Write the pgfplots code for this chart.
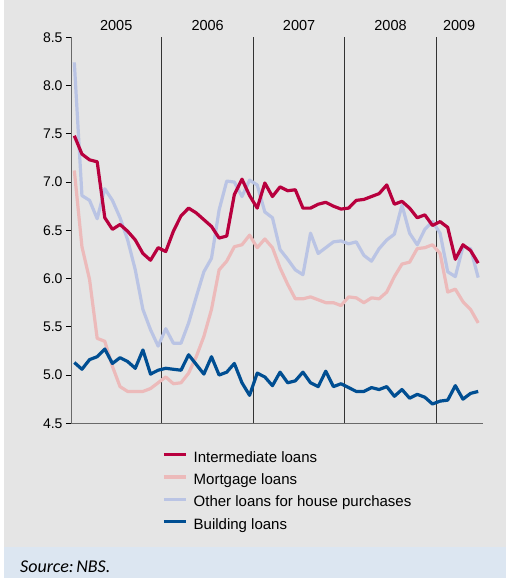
\documentclass[border=0pt]{standalone}
\usepackage{pgfplots}
\pgfplotsset{compat=1.18}
\usepackage{pgfplotstable}
\usepackage{fontspec}
\setmainfont{Liberation Sans}
\newfontfamily\srcfont{Carlito}

\definecolor{cInter}{RGB}{184,0,62}
\definecolor{cMort}{RGB}{236,186,186}
\definecolor{cOther}{RGB}{186,196,228}
\definecolor{cBuild}{RGB}{0,78,146}
\definecolor{bggray}{RGB}{229,229,229}
\definecolor{srcblue}{RGB}{220,230,241}
\definecolor{axisgray}{RGB}{105,105,105}

\pgfplotstableread{
i inter mort other build
0 7.48 7.12 8.24 5.13
1 7.29 6.33 6.86 5.06
2 7.23 5.99 6.81 5.16
3 7.21 5.38 6.62 5.19
4 6.63 5.35 6.93 5.27
5 6.51 5.09 6.81 5.12
6 6.56 4.88 6.63 5.18
7 6.49 4.83 6.40 5.14
8 6.40 4.83 6.09 5.07
9 6.26 4.83 5.68 5.26
10 6.19 4.86 5.47 5.01
11 6.32 4.92 5.30 5.05
12 6.28 4.98 5.48 5.07
13 6.49 4.91 5.33 5.06
14 6.65 4.92 5.33 5.05
15 6.73 5.02 5.54 5.21
16 6.68 5.19 5.81 5.11
17 6.61 5.40 6.07 5.01
18 6.54 5.68 6.21 5.19
19 6.42 6.09 6.71 5.00
20 6.44 6.18 7.01 5.03
21 6.87 6.33 7.00 5.12
22 7.03 6.35 6.85 4.92
23 6.86 6.45 7.02 4.79
24 6.73 6.32 6.97 5.02
25 6.99 6.41 6.69 4.98
26 6.85 6.32 6.63 4.89
27 6.95 6.11 6.30 5.03
28 6.91 5.94 6.20 4.92
29 6.92 5.79 6.09 4.94
30 6.73 5.79 6.04 5.03
31 6.73 5.81 6.47 4.92
32 6.77 5.78 6.26 4.88
33 6.79 5.75 6.32 5.04
34 6.75 5.75 6.38 4.88
35 6.72 5.72 6.39 4.91
36 6.73 5.81 6.36 4.87
37 6.81 5.80 6.38 4.83
38 6.82 5.75 6.24 4.83
39 6.85 5.80 6.18 4.87
40 6.88 5.79 6.31 4.85
41 6.97 5.86 6.40 4.88
42 6.77 6.02 6.46 4.78
43 6.80 6.15 6.76 4.85
44 6.73 6.17 6.47 4.76
45 6.63 6.31 6.35 4.80
46 6.66 6.32 6.51 4.77
47 6.55 6.35 6.59 4.70
48 6.59 6.26 6.47 4.73
49 6.53 5.86 6.07 4.74
50 6.20 5.89 6.02 4.89
51 6.35 5.76 6.33 4.75
52 6.29 5.68 6.31 4.81
53 6.16 5.54 6.01 4.83
}\loandata

\begin{document}
\begin{tikzpicture}
% page background
\fill[white] (-71.5pt,-154.7pt) rectangle (434.5pt,423.3pt);
\fill[bggray] (-67.5pt,-123.4pt) rectangle (434.5pt,423.3pt);
\fill[srcblue] (-67.5pt,-154.7pt) rectangle (434.5pt,-123.4pt);
\node[anchor=base west, inner sep=0pt, font=\srcfont\itshape\fontsize{18}{20}\selectfont] at (-51.5pt,-149.4pt) {Source:\hspace{2.5pt}NBS.};
\begin{axis}[
  at={(0pt,0pt)}, anchor=south west,
  scale only axis, width=411.5pt, height=386pt,
  xmin=-0.37, xmax=53.63, ymin=4.5, ymax=8.5,
  axis x line*=bottom, axis y line*=left,
  axis line style={draw=axisgray, line width=1.2pt},
  xtick={5.5,17.5,29.5,41.5,50.5},
  xticklabels={2005,2006,2007,2008,2009},
  xtick style={draw=none},
  x tick label style={anchor=south, inner sep=0pt, yshift=392.3pt, font=\fontsize{14.5}{16}\selectfont},
  extra x ticks={11.5,23.5,35.5,47.5},
  extra x tick labels={},
  extra x tick style={grid=major, major grid style={draw=black!80, line width=1pt}, xtick style={draw=none}},
  ytick={4.5,5,5.5,6,6.5,7,7.5,8,8.5},
  y tick label style={/pgf/number format/fixed, /pgf/number format/fixed zerofill, /pgf/number format/precision=1, /pgf/number format/assume math mode=true, font=\fontsize{14}{16}\selectfont},
  ytick align=outside, major tick length=5.5pt,
  ytick style={draw=black, line width=0.8pt},
  legend style={at={(0.22,-0.0718)}, anchor=north west, draw=none, fill=none, inner sep=0pt,
    font=\fontsize{15}{17}\selectfont, row sep=8.3pt,
    nodes={inner sep=0pt, text height=11pt, text depth=3pt},
    /tikz/every odd column/.append style={column sep=6pt}},
  legend cell align=left,
  legend image code/.code={\draw[#1, line width=3.5pt] (0pt,3.5pt) -- (22pt,3.5pt);},
  every axis plot/.append style={line width=3.2pt, line join=round},
]
\addlegendimage{cInter}
\addlegendentry{Intermediate loans}
\addlegendimage{cMort}
\addlegendentry{Mortgage loans}
\addlegendimage{cOther}
\addlegendentry{Other loans for house purchases}
\addlegendimage{cBuild}
\addlegendentry{Building loans}
\addplot[cMort, forget plot] table[x=i, y=mort] {\loandata};
\addplot[cOther, forget plot] table[x=i, y=other] {\loandata};
\addplot[cInter, forget plot] table[x=i, y=inter] {\loandata};
\addplot[cBuild, forget plot] table[x=i, y=build] {\loandata};
\end{axis}
\end{tikzpicture}
\end{document}
